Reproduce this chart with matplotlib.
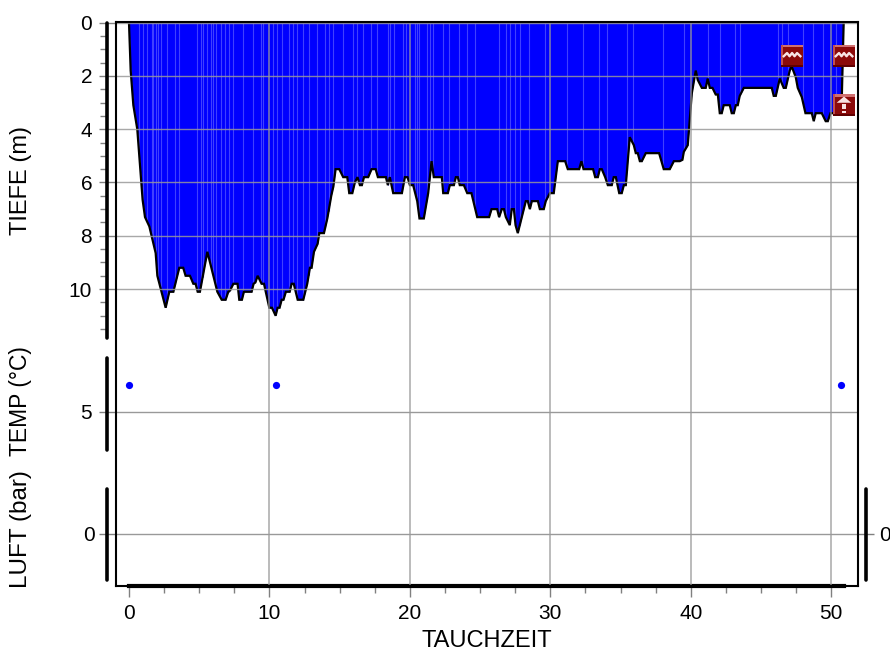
import matplotlib
matplotlib.use("Agg")
import numpy as np
import matplotlib.pyplot as plt
from matplotlib.lines import Line2D
from matplotlib.offsetbox import AnnotationBbox, DrawingArea
from matplotlib.patches import Polygon, Rectangle

plt.rcParams["font.family"] = ["Liberation Sans", "DejaVu Sans"]

# dive profile: minutes / metres
profile_t = [0, .12, .31, .59, .97, 1.14, 1.45, 1.61, 1.9, 2.02, 2.61, 2.87, 3.16, 3.58, 3.86, 4.03, 4.34, 4.58,
             4.74, 4.89, 5.05, 5.58, 6.29, 6.6, 6.88, 7.07, 7.2, 7.43, 7.73, 7.85, 8.04, 8.18, 8.73, 8.87, 9.0,
             9.16, 9.44, 9.61, 9.99, 10.18, 10.44, 10.58, 10.72, 10.87, 11.0, 11.17, 11.44, 11.58, 11.73, 12.01,
             12.41, 12.69, 12.88, 13.0, 13.17, 13.43, 13.55, 13.88, 14.12, 14.4, 14.55, 14.71, 14.97, 15.25,
             15.54, 15.68, 15.9, 16.08, 16.27, 16.44, 16.58, 16.73, 17.03, 17.27, 17.56, 17.72, 18.29, 18.43,
             18.57, 18.81, 19.43, 19.64, 19.83, 20.0, 20.23, 20.52, 20.68, 20.99, 21.3, 21.54, 21.7, 22.27,
             22.37, 22.7, 22.84, 23.13, 23.27, 23.41, 23.55, 23.84, 24.08, 24.38, 24.79, 25.64, 25.81, 26.21,
             26.35, 26.54, 26.69, 26.83, 27.11, 27.25, 27.4, 27.52, 27.68, 28.25, 28.39, 28.54, 28.68, 29.11,
             29.25, 29.53, 29.67, 29.96, 30.24, 30.53, 31.05, 31.24, 32.05, 32.21, 32.36, 33.04, 33.19, 33.38,
             33.52, 33.66, 33.9, 34.09, 34.37, 34.51, 34.66, 34.9, 35.08, 35.23, 35.37, 35.65, 35.94, 36.08,
             36.22, 36.37, 36.51, 36.79, 37.74, 38.07, 38.5, 38.79, 39.21, 39.4, 39.5, 39.78, 40.07, 40.35,
             40.49, 40.78, 41.06, 41.2, 41.35, 41.54, 41.77, 41.92, 42.06, 42.2, 42.34, 42.77, 42.91, 43.06,
             43.2, 43.34, 43.48, 43.77, 45.76, 45.9, 46.05, 46.33, 46.61, 46.76, 47.04, 47.18, 47.47, 47.61,
             47.9, 48.16, 48.61, 48.75, 48.89, 49.32, 49.6, 49.75, 49.94, 50.72, 50.88]
profile_d = [0, 1.8, 3.1, 4.0, 6.65, 7.3, 7.65, 8.0, 8.65, 9.5, 10.7, 10.1, 10.1, 9.2, 9.2, 9.5, 9.5, 9.8,
             9.8, 10.1, 10.1, 8.6, 10.1, 10.4, 10.4, 10.1, 10.05, 9.8, 9.8, 10.4, 10.4, 10.1, 10.1, 9.8, 9.75,
             9.5, 9.8, 9.8, 10.7, 10.7, 11.0, 10.7, 10.7, 10.4, 10.4, 10.1, 10.1, 9.8, 9.8, 10.4,
             10.4, 9.8, 9.2, 9.2, 8.6, 8.3, 7.9, 7.9, 7.35, 6.5, 6.15, 5.5, 5.5, 5.8,
             5.8, 6.4, 6.4, 6.0, 5.8, 6.1, 6.1, 5.8, 5.8, 5.5, 5.5, 5.8, 5.8, 6.1,
             5.8, 6.4, 6.4, 5.8, 5.8, 6.1, 6.1, 6.7, 7.35, 7.35, 6.4, 5.2, 5.8, 5.8,
             6.4, 6.4, 6.1, 6.1, 5.8, 5.8, 6.1, 6.1, 6.4, 6.4, 7.3, 7.3, 7.0, 7.0,
             7.3, 7.0, 7.0, 7.3, 7.6, 7.0, 7.0, 7.6, 7.9, 6.7, 6.7, 7.0, 6.7, 6.7,
             7.0, 7.0, 6.7, 6.4, 6.4, 5.2, 5.2, 5.5, 5.5, 5.2, 5.5, 5.5, 5.8, 5.8,
             5.5, 5.5, 5.8, 6.1, 6.1, 5.8, 5.8, 6.4, 6.4, 6.1, 6.1, 4.3, 4.6, 4.9,
             4.9, 5.2, 5.2, 4.9, 4.9, 5.5, 5.5, 5.2, 5.2, 5.15, 4.85, 4.6, 2.65, 1.8,
             2.15, 2.45, 2.45, 2.1, 2.45, 2.45, 2.7, 2.7, 3.4, 3.4, 3.1, 3.1, 3.4, 3.4,
             3.1, 3.1, 2.75, 2.45, 2.45, 2.75, 2.75, 2.1, 2.45, 2.45, 1.8, 1.65, 2.05, 2.45,
             2.8, 3.4, 3.4, 3.7, 3.4, 3.4, 3.7, 3.7, 3.4, 3.4, 0]

# light stripes in the blue area (sample borders)
stripe_t = [.74, .97, 1.3, 1.61, 1.73, 1.92, 2.09, 2.25, 2.73, 3.3, 3.58, 4.86, 5.12, 5.24, 5.53, 5.84, 6.0, 6.19,
            6.55, 6.86, 7.09, 7.43, 8.14, 8.85, 9.42, 9.56, 10.23, 10.56, 10.87, 11.41, 11.7, 11.93, 12.41, 12.79,
            13.4, 13.97, 14.21, 14.54, 15.25, 15.97, 16.25, 16.68, 17.25, 17.68, 18.43, 18.57, 18.86, 19.52, 19.71,
            20.33, 20.47, 20.66, 21.23, 21.42, 21.61, 22.37, 22.79, 23.51, 24.08, 24.65, 26.35, 26.83, 27.16, 27.49,
            27.82, 28.49, 29.63, 31.19, 32.33, 33.47, 34.04, 35.46, 35.89, 38.03, 39.54, 41.23, 42.06, 43.15, 43.53,
            46.23, 46.47, 46.95, 48.0, 48.7, 49.41, 50.36]

temp_t = [0, 10.5, 50.7]
temp_c = [6.5, 6.5, 6.5]

# events: time, depth of icon centre, kind
event_t = [47.2, 50.9, 50.9]
event_d = [1.25, 1.25, 3.1]
event_kind = ["wave", "wave", "ascent"]

time_ticks = [0, 10, 20, 30, 40, 50]
depth_ticks = [0, 2, 4, 6, 8, 10]
GRID = "#999999"
TICK = "#808080"
FS = 15


def make_axes(fig):
    a = fig.add_axes([115.5 / 890, 1 - 586 / 653, (858 - 115.5) / 890, (586 - 21.5) / 653])
    a.set_xlim(-0.96, 51.9)
    return a


def event_icon(kind):
    da = DrawingArea(15.5, 15.5, 0, 0)
    da.add_artist(Rectangle((0, 0), 15.5, 15.5, fc="#8b0a0a", ec="none"))
    da.add_artist(Rectangle((0, 14), 15.5, 1.5, fc="#d07070", ec="none"))
    da.add_artist(Rectangle((0, 0), 1.5, 15.5, fc="#c05050", ec="none"))
    da.add_artist(Rectangle((0, 0), 15.5, 1.2, fc="#600000", ec="none"))
    if kind == "wave":
        da.add_artist(Line2D([1.8, 4.2, 6, 7.8, 9.6, 11.4, 13.8], [7.5, 9.8, 7.5, 9.8, 7.5, 9.8, 7.5],
                             color="#f8e4e4", lw=1.7))
    else:
        da.add_artist(Polygon([[2.5, 9.5], [7.8, 14], [13, 9.5]], fc="#f8e4e4", ec="none"))
        da.add_artist(Rectangle((6.5, 4.8), 2.6, 4, fc="#f8e4e4", ec="none"))
        da.add_artist(Rectangle((6.5, 2), 2.6, 1.8, fc="#f8e4e4", ec="none"))
    return da


fig = plt.figure(figsize=(8.9, 6.53), dpi=100)

# depth axes carries the profile
ax = make_axes(fig)
ax.set_ylim(21.14, -0.04)
ax.fill_between(profile_t, 0, profile_d, color="#0000ff", lw=0, zorder=2)
ax.vlines(stripe_t, 0, np.interp(stripe_t, profile_t, profile_d), color="#4040ff", lw=0.8, zorder=2.1)
ax.plot(profile_t, profile_d, color="black", lw=1.6, zorder=3, solid_joinstyle="miter")

ax.set_yticks(depth_ticks)
ax.set_yticks(np.arange(0.5, 12, 0.5)[[i for i in range(23) if (i + 1) % 4 != 0]], minor=True)
ax.set_xticks(time_ticks)
ax.set_xticks([t for t in np.arange(0, 51, 2.5) if t % 10 != 0], minor=True)
ax.tick_params(axis="y", which="major", direction="inout", length=11, width=1, color=TICK, labelsize=FS, pad=5.5)
ax.tick_params(axis="y", which="minor", direction="out", length=5, width=1, color=TICK)
ax.tick_params(axis="x", which="major", direction="out", length=8, width=1, color=TICK, labelsize=FS, pad=5)
ax.tick_params(axis="x", which="minor", direction="out", length=5, width=1, color=TICK)
ax.hlines(depth_ticks, -0.96, 51.9, color=GRID, lw=1, alpha=0.85, zorder=4)
ax.vlines(time_ticks[1:], -0.04, 21.14, color=GRID, lw=1.1, alpha=0.85, zorder=4)
ax.set_xlabel("TAUCHZEIT", fontsize=17, labelpad=5)

ax.spines["left"].set_position(("outward", 5.8))
ax.spines["left"].set_bounds(11.83, 0)
ax.spines["left"].set_linewidth(2.6)
ax.spines["left"].set_capstyle("round")
ax.spines["bottom"].set_bounds(0, 50.9)
ax.spines["bottom"].set_linewidth(3)
ax.spines["top"].set_visible(False)
ax.spines["right"].set_visible(False)

# temperature scale
tx = make_axes(fig)
tx.patch.set_alpha(0)
tx.set_ylim(-4.69, 26.67)
tx.plot(temp_t, temp_c, "o", color="#0000ff", ms=5.2, mew=0, clip_on=False, zorder=5)
tx.hlines([5], -0.96, 51.9, color=GRID, lw=1, zorder=4)
tx.set_xticks([])
tx.set_yticks([5])
tx.tick_params(axis="y", direction="inout", length=11, width=1, color=TICK, labelsize=FS, pad=5.5)
tx.spines["left"].set_position(("outward", 5.8))
tx.spines["left"].set_bounds(2.86, 7.97)
tx.spines["left"].set_linewidth(2.6)
tx.spines["left"].set_capstyle("round")
for s in ["top", "right", "bottom"]:
    tx.spines[s].set_visible(False)

# air scale, left and right
lx = make_axes(fig)
lx.patch.set_alpha(0)
lx.set_ylim(-5.25, 51.2)
lx.hlines([0], -0.96, 51.9, color=GRID, lw=1, zorder=4)
lx.set_xticks([])
lx.set_yticks([0])
lx.tick_params(axis="y", direction="inout", length=11, width=1, color=TICK, labelsize=FS, pad=3.8)
lx.tick_params(axis="y", right=True, labelright=True)
lx.spines["left"].set_position(("outward", 5.8))
lx.spines["right"].set_position(("outward", 5.8))
for s in ["left", "right"]:
    lx.spines[s].set_bounds(-4.65, 4.45)
    lx.spines[s].set_linewidth(2.6)
    lx.spines[s].set_capstyle("round")
lx.spines["top"].set_visible(False)
lx.spines["bottom"].set_visible(False)

# plain frame round the plot
fx = make_axes(fig)
fx.patch.set_alpha(0)
fx.set_xticks([])
fx.set_yticks([])
for s in fx.spines.values():
    s.set_linewidth(1.5)

# event icons on top of everything
for t, d, kind in zip(event_t, event_d, event_kind):
    ab = AnnotationBbox(event_icon(kind), (t, d), xycoords=ax.transData, frameon=False, pad=0,
                        annotation_clip=False, zorder=10)
    fx.add_artist(ab)

fig.text(21 / 890, 1 - 180 / 653, "TIEFE (m)", rotation=90, fontsize=17, ha="center", va="center")
fig.text(21 / 890, 1 - 401 / 653, "TEMP (°C)", rotation=90, fontsize=16.5, ha="center", va="center")
fig.text(21 / 890, 1 - 529 / 653, "LUFT (bar)", rotation=90, fontsize=17.5, ha="center", va="center")

fig.savefig("out.png", dpi=100)
